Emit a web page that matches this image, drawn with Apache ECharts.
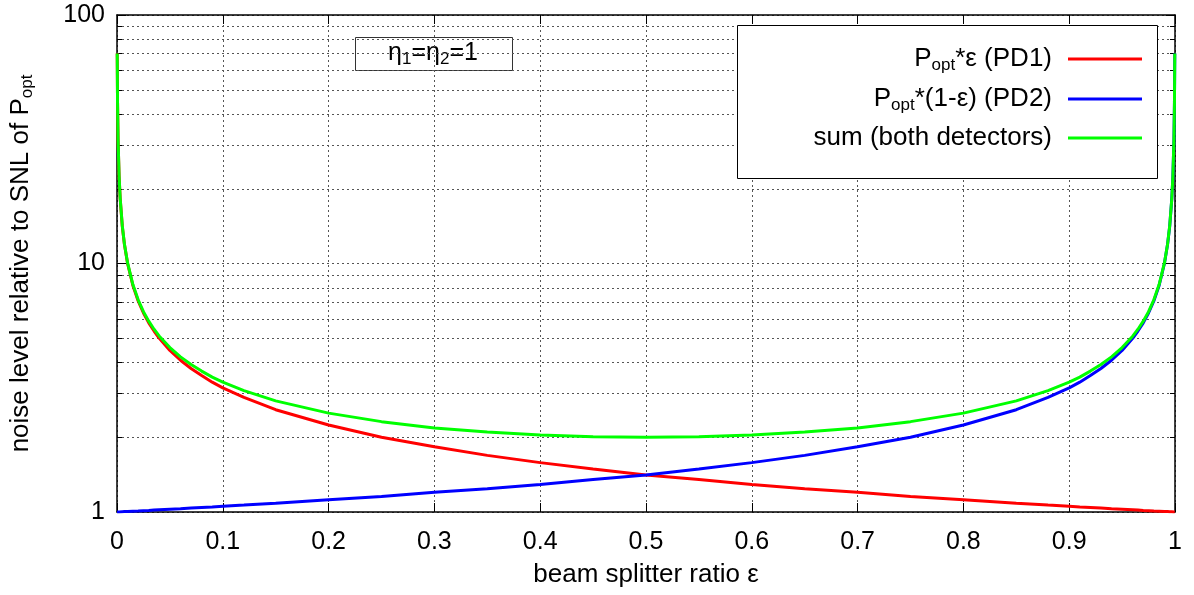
<!DOCTYPE html>
<html>
<head>
<meta charset="utf-8">
<script src="https://cdn.jsdelivr.net/npm/echarts@6/dist/echarts.min.js"></script>
<style>
  html, body { margin: 0; padding: 0; background: #fff; }
  #chart { width: 1194px; height: 595px; }
</style>
</head>
<body>
<div id="chart"></div>
<script>
// Beam splitter ratio ε (shared sample positions for all three curves)
const eps = [0, 0.0002, 0.0005, 0.001, 0.002, 0.003, 0.005, 0.007, 0.01, 0.015,
  0.02, 0.025, 0.03, 0.035, 0.04, 0.05, 0.06, 0.07, 0.08, 0.09,
  0.1, 0.12, 0.15, 0.2, 0.25, 0.3, 0.35, 0.4, 0.45, 0.5,
  0.55, 0.6, 0.65, 0.7, 0.75, 0.8, 0.85, 0.88, 0.9, 0.91,
  0.92, 0.93, 0.94, 0.95, 0.96, 0.965, 0.97, 0.975, 0.98, 0.985,
  0.99, 0.993, 0.995, 0.997, 0.998, 0.999, 0.9995, 0.9998, 1];

// Noise level relative to SNL of P_opt, detector 1 (P_opt*ε)
const pd1 = [null, 70, 44.7, 31.6, 22.4, 18.3, 14.1, 11.95, 10, 8.16,
  7.07, 6.32, 5.77, 5.35, 5.0, 4.47, 4.08, 3.78, 3.54, 3.33,
  3.16, 2.89, 2.58, 2.24, 2.0, 1.83, 1.69, 1.58, 1.49, 1.41,
  1.35, 1.29, 1.24, 1.2, 1.155, 1.12, 1.085, 1.066, 1.054, 1.048,
  1.043, 1.037, 1.031, 1.026, 1.021, 1.018, 1.015, 1.0127, 1.01, 1.0076,
  1.005, 1.0035, 1.0025, 1.0015, 1.001, 1.0005, 1.00025, 1.0001, 1.0];

// Detector 2 (P_opt*(1-ε))
const pd2 = [1.0, 1.0001, 1.00025, 1.0005, 1.001, 1.0015, 1.0025, 1.0035, 1.005, 1.0076,
  1.01, 1.0127, 1.015, 1.018, 1.021, 1.026, 1.031, 1.037, 1.043, 1.048,
  1.054, 1.066, 1.085, 1.12, 1.155, 1.2, 1.24, 1.29, 1.35, 1.41,
  1.49, 1.58, 1.69, 1.83, 2.0, 2.24, 2.58, 2.89, 3.16, 3.33,
  3.54, 3.78, 4.08, 4.47, 5.0, 5.35, 5.77, 6.32, 7.07, 8.16,
  10, 11.95, 14.1, 18.3, 22.4, 31.6, 44.7, 70, null];

// Sum of both detectors
const both = [null, 70, 44.7, 31.6, 22.4, 18.3, 14.2, 11.99, 10.05, 8.23,
  7.14, 6.4, 5.86, 5.44, 5.1, 4.59, 4.21, 3.92, 3.69, 3.49,
  3.33, 3.08, 2.8, 2.5, 2.31, 2.18, 2.1, 2.04, 2.01, 2.0,
  2.01, 2.04, 2.1, 2.18, 2.31, 2.5, 2.8, 3.08, 3.33, 3.49,
  3.69, 3.92, 4.21, 4.59, 5.1, 5.44, 5.86, 6.4, 7.14, 8.23,
  10.05, 11.99, 14.2, 18.3, 22.4, 31.6, 44.7, 70, null];

// Log-scale minor tick positions on the y axis
const minorY = [2, 3, 4, 5, 6, 7, 8, 9, 20, 30, 40, 50, 60, 70, 80, 90];

const FONT = '"Liberation Sans", Arial, Helvetica, sans-serif';
const FS = 26;       // titles, legend, annotation
const FS_TICK = 25;  // tick labels
const FS_SUB = 17;   // subscripts
const GRID_STYLE = { color: '#555', width: 1, type: [2, 3] };

function pair(xs, ys) {
  return xs.map((x, i) => [x, ys[i]]).filter(p => p[1] !== null);
}

const chart = echarts.init(document.getElementById('chart'), null, { renderer: 'canvas' });

const richText = {
  a: { fontSize: FS, fontFamily: FONT, color: '#000', lineHeight: 30 },
  s: { fontSize: FS_SUB, fontFamily: FONT, color: '#000', lineHeight: 16, verticalAlign: 'bottom' }
};

const legendNames = {
  'pd1': '{a|P}{s|opt}{a|*ε (PD1)}',
  'pd2': '{a|P}{s|opt}{a|*(1-ε) (PD2)}',
  'sum': '{a|sum (both detectors)}'
};

// one legend per row so the line samples stay in one column on the right
function legendRow(name, top) {
  return {
    data: [name],
    orient: 'vertical',
    right: 52,
    top: top,
    align: 'right',
    icon: 'rect',
    itemWidth: 74,
    itemHeight: 3,
    padding: 0,
    z: 30,
    selectedMode: false,
    formatter: n => legendNames[n],
    textStyle: { padding: [0, 11, 0, 0], rich: richText }
  };
}

const option = {
  animation: false,
  backgroundColor: '#fff',
  textStyle: { fontFamily: FONT },
  grid: { left: 117, right: 19, top: 15, bottom: 83, containLabel: false, outerBoundsMode: 'none' },
  legend: [legendRow('pd1', 46), legendRow('pd2', 86), legendRow('sum', 125)],
  xAxis: [{
    type: 'value',
    min: 0, max: 1, interval: 0.1,
    position: 'bottom',
    name: 'beam splitter ratio ε',
    nameLocation: 'middle',
    nameGap: 50,
    nameTextStyle: { fontSize: FS, color: '#000', fontFamily: FONT },
    axisLine: { show: true, onZero: false, lineStyle: { color: '#000', width: 1.5 } },
    axisTick: { show: true, inside: true, length: 9, lineStyle: { color: '#000' } },
    axisLabel: { fontSize: FS_TICK, color: '#000', margin: 18, fontFamily: FONT },
    splitLine: { show: true, lineStyle: GRID_STYLE }
  }, {
    type: 'value',
    min: 0, max: 1, interval: 0.1,
    position: 'top',
    axisLine: { show: true, onZero: false, lineStyle: { color: '#000', width: 1.5 } },
    axisTick: { show: true, inside: true, length: 9, lineStyle: { color: '#000' } },
    axisLabel: { show: false },
    splitLine: { show: false }
  }],
  yAxis: [{
    type: 'log',
    logBase: 10,
    min: 1, max: 100,
    position: 'left',
    name: '{n|noise level relative to SNL of P}{s|opt}',
    nameLocation: 'middle',
    nameGap: 81,
    nameRotate: 90,
    nameTextStyle: {
      rich: {
        n: { fontSize: FS, fontFamily: FONT, color: '#000', lineHeight: 30 },
        s: { fontSize: FS_SUB, fontFamily: FONT, color: '#000', lineHeight: 16, verticalAlign: 'bottom' }
      }
    },
    axisLine: { show: true, onZero: false, lineStyle: { color: '#000', width: 1.5 } },
    axisTick: { show: true, inside: true, length: 9, lineStyle: { color: '#000' } },
    axisLabel: { fontSize: FS_TICK, color: '#000', margin: 12, fontFamily: FONT },
    splitLine: { show: true, lineStyle: GRID_STYLE }
  }, {
    type: 'log',
    logBase: 10,
    min: 1, max: 100,
    position: 'right',
    axisLine: { show: true, onZero: false, lineStyle: { color: '#000', width: 1.5 } },
    axisTick: { show: true, inside: true, length: 9, lineStyle: { color: '#000' } },
    axisLabel: { show: false },
    splitLine: { show: false }
  }],
  graphic: [{
    // legend frame
    type: 'rect',
    z: 20,
    shape: { x: 737.5, y: 25.5, width: 420, height: 153 },
    style: { fill: '#fff', stroke: '#000', lineWidth: 1 }
  }, {
    // annotation: detector efficiencies
    type: 'group',
    z: 20,
    children: [{
      type: 'rect',
      shape: { x: 355.5, y: 37.5, width: 157, height: 33 },
      style: { fill: '#fff', stroke: '#333', lineWidth: 1 }
    }, {
      type: 'text',
      x: 433, y: 53,
      style: {
        text: '{a|η}{s|1}{a|=η}{s|2}{a|=1}',
        align: 'center',
        verticalAlign: 'middle',
        rich: {
          a: { fontSize: FS_TICK, fontFamily: FONT, fill: '#000', lineHeight: 30 },
          s: { fontSize: FS_SUB, fontFamily: FONT, fill: '#000', lineHeight: 16, verticalAlign: 'bottom' }
        }
      }
    }]
  }],
  series: [{
    // minor log grid lines and their short tick marks on both y axes
    type: 'custom',
    name: 'minor',
    silent: true,
    z: 1,
    data: minorY.map(v => [0, v]),
    renderItem: function (params, api) {
      const v = api.value(1);
      const l = api.coord([0, v]);
      const r = api.coord([1, v]);
      const y = Math.round(l[1]) + 0.5;
      return {
        type: 'group',
        children: [{
          type: 'line',
          shape: { x1: l[0], y1: y, x2: r[0], y2: y },
          style: { stroke: '#555', lineWidth: 1, lineDash: [2, 3] }
        }, {
          type: 'line',
          shape: { x1: l[0], y1: y, x2: l[0] + 5, y2: y },
          style: { stroke: '#000', lineWidth: 1 }
        }, {
          type: 'line',
          shape: { x1: r[0] - 5, y1: y, x2: r[0], y2: y },
          style: { stroke: '#000', lineWidth: 1 }
        }]
      };
    }
  }, {
    name: 'pd1',
    type: 'line',
    data: pair(eps, pd1),
    showSymbol: false,
    symbol: 'none',
    smooth: false,
    z: 3,
    color: '#ff0000',
    lineStyle: { color: '#ff0000', width: 3 }
  }, {
    name: 'pd2',
    type: 'line',
    data: pair(eps, pd2),
    showSymbol: false,
    symbol: 'none',
    smooth: false,
    z: 4,
    color: '#0000ff',
    lineStyle: { color: '#0000ff', width: 3 }
  }, {
    name: 'sum',
    type: 'line',
    data: pair(eps, both),
    showSymbol: false,
    symbol: 'none',
    smooth: false,
    z: 5,
    color: '#00ff00',
    lineStyle: { color: '#00ff00', width: 3 }
  }]
};

chart.setOption(option);
</script>
</body>
</html>
